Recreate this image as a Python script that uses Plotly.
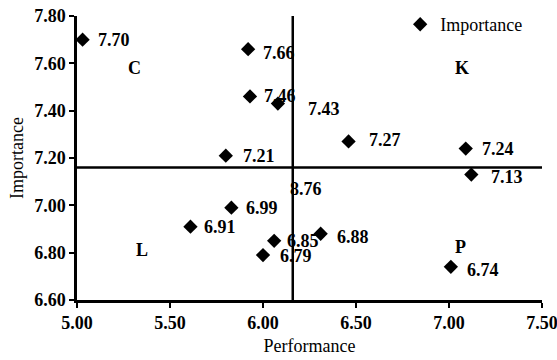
import plotly.graph_objects as go

# Data
performance = [5.03, 5.92, 5.93, 6.08, 5.80, 6.46, 7.09, 7.12, 5.61, 5.83, 6.00, 6.06, 6.31, 7.01]
importance = [7.70, 7.66, 7.46, 7.43, 7.21, 7.27, 7.24, 7.13, 6.91, 6.99, 6.79, 6.85, 6.88, 6.74]
labels = ["%.2f" % v for v in importance]

mean_perf = 6.16
mean_imp = 7.16

extra_label = "8.76"
extra_label_pos = (6.145, 7.07)

quadrants = ["C", "K", "L", "P"]
quadrant_pos = [(5.31, 7.58), (7.07, 7.58), (5.35, 6.813), (7.06, 6.823)]

x_ticks = [5.0, 5.5, 6.0, 6.5, 7.0, 7.5]
y_ticks = [6.6, 6.8, 7.0, 7.2, 7.4, 7.6, 7.8]

# label pixel offsets (style only)
label_dx = [15, 15, 14, 30, 17, 20, 16, 20, 14, 15, 17, 13, 16, 16]
label_dy = [0, -4, 0, -5, 0, 1, 0, -2, 0, 0, -1, 0, -3, -3]

FONT = "Liberation Serif"
BOLD = dict(family=FONT, size=18, color="black", weight="bold")
TITLE = dict(family=FONT, size=18, color="black")

fig = go.Figure()
fig.add_trace(go.Scatter(
    x=performance, y=importance, mode="markers",
    name="Importance",
    marker=dict(symbol="diamond", size=11, color="black"),
    cliponaxis=False,
))

for x, y, t, dx, dy in zip(performance, importance, labels, label_dx, label_dy):
    fig.add_annotation(x=x, y=y, text=t, showarrow=False, xanchor="left",
                       xshift=dx - 2, yshift=dy, font=BOLD)

# mean lines
fig.add_shape(type="line", x0=mean_perf, x1=mean_perf, y0=6.6, y1=7.81,
              line=dict(color="black", width=2.5), layer="below")
fig.add_shape(type="line", x0=5.0, x1=7.5, y0=mean_imp, y1=mean_imp,
              line=dict(color="black", width=2.5), layer="below")

fig.add_annotation(x=extra_label_pos[0], y=extra_label_pos[1], text=extra_label,
                   showarrow=False, xanchor="left", xshift=-2, font=BOLD)

for q, (qx, qy) in zip(quadrants, quadrant_pos):
    fig.add_annotation(x=qx, y=qy, text=q, showarrow=False,
                       font=dict(family=FONT, size=18, color="black", weight="bold"))

fig.update_layout(
    width=557, height=360,
    margin=dict(l=77, r=15, t=16, b=60, autoexpand=False),
    paper_bgcolor="white", plot_bgcolor="white",
    showlegend=True,
    legend=dict(x=0.695, y=1.035, xanchor="left", yanchor="top",
                font=TITLE, bgcolor="rgba(0,0,0,0)", itemwidth=30),
    font=dict(family=FONT, color="black"),
)
fig.update_xaxes(range=[5.0, 7.5], tickvals=x_ticks,
                 ticktext=["%.2f" % v for v in x_ticks],
                 showgrid=False, zeroline=False, automargin=False,
                 ticklabeloverflow="allow",
                 showline=True, linecolor="black", linewidth=2.5,
                 ticks="outside", ticklen=5, tickwidth=2, tickcolor="black",
                 tickfont=BOLD,
                 title=dict(text="Performance", font=TITLE, standoff=8))
fig.update_yaxes(range=[6.6, 7.8], tickvals=y_ticks,
                 ticktext=["%.2f" % v for v in y_ticks],
                 showgrid=False, zeroline=False, automargin=False,
                 ticklabeloverflow="allow",
                 showline=True, linecolor="black", linewidth=2.5,
                 ticks="outside", ticklen=5, tickwidth=2, tickcolor="black",
                 tickfont=BOLD,
                 title=dict(text="Importance", font=TITLE, standoff=6))

fig.write_html(
    "out.html",
    config={"displayModeBar": False},
    post_script="document.body.style.margin='0';document.body.style.overflow='hidden';",
)
